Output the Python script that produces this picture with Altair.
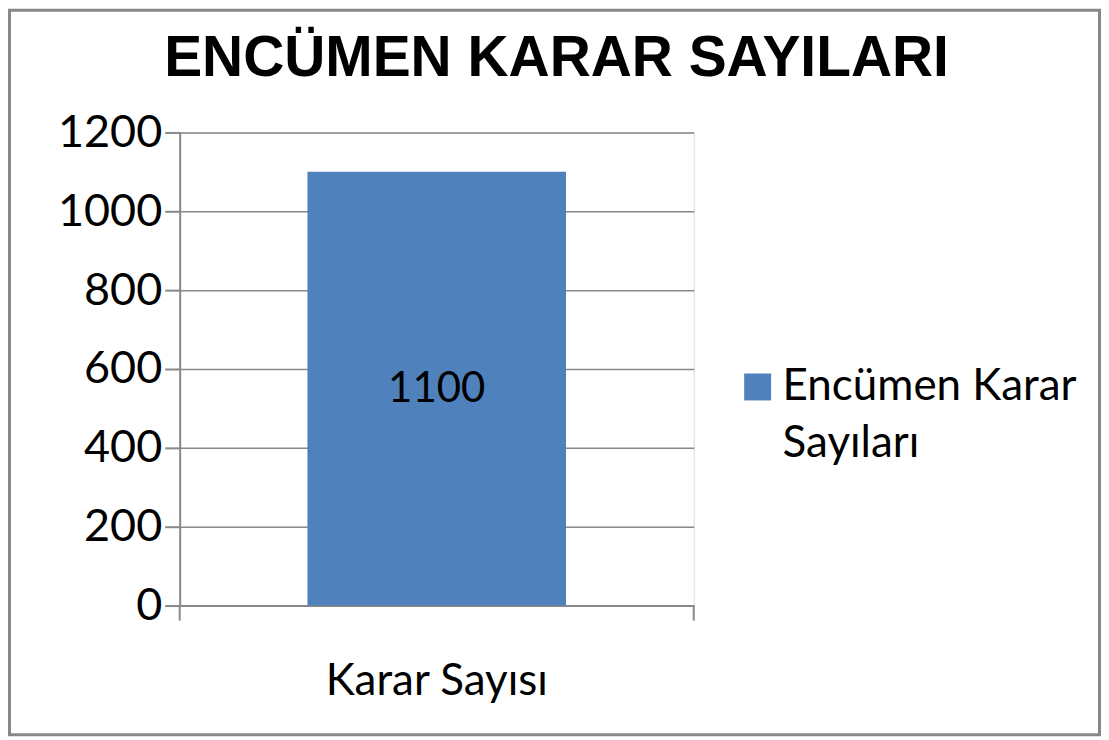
import altair as alt
import pandas as pd

categories = ["Karar Sayısı"]
values = [1100]
series = ["Encümen Karar Sayıları"]
y_ticks = [0, 200, 400, 600, 800, 1000, 1200]
title_text = "ENCÜMEN KARAR SAYILARI"

df = pd.DataFrame({"cat": categories, "value": values, "series": series})

W, H = 515, 474
PL, PT, PR, PB = 172, 124, 408, 131
FONT = "Lato"
GREY = "#888888"

base = alt.Chart(df)

bars = base.mark_bar(color="#4F81BD", width=alt.RelativeBandSize(0.503)).encode(
    x=alt.X("cat:N", title=None, sort=categories,
            scale=alt.Scale(paddingInner=0, paddingOuter=0),
            axis=alt.Axis(labelFont=FONT, labelFontSize=44, labelColor="black",
                          labelAngle=0, labelPadding=54, ticks=False,
                          labelLimit=500,
                          domainColor=GREY, domainWidth=2, grid=False)),
    y=alt.Y("value:Q", title=None,
            scale=alt.Scale(domain=[0, 1200], nice=False),
            axis=alt.Axis(values=y_ticks, labelFont=FONT, labelFontSize=45,
                          labelColor="black", labelPadding=3, tickSize=15,
                          tickColor=GREY, tickWidth=2, domainColor=GREY,
                          domainWidth=2, gridColor=GREY, gridWidth=1.5,
                          format="d")),
    color=alt.Color("series:N", scale=alt.Scale(range=["#4F81BD"]),
                    legend=alt.Legend(title=None, orient="none",
                                      legendX=557, legendY=233,
                                      symbolType="square", symbolSize=729,
                                      symbolStrokeWidth=0,
                                      labelFont=FONT, labelFontSize=44,
                                      labelColor="black", labelLimit=500,
                                      labelOffset=3,
                                      labelExpr="['Encümen Karar', 'Sayıları']")),
)

labels = base.transform_calculate(mid="datum.value / 2").mark_text(
    font=FONT, fontSize=42, color="black", baseline="middle"
).encode(
    x=alt.X("cat:N", sort=categories),
    y=alt.Y("mid:Q"),
    text=alt.Text("value:Q", format="d"),
)

edge_ticks = alt.Chart(pd.DataFrame({"t": [0, W]})).mark_rule(
    color=GREY, strokeWidth=2
).encode(x=alt.X("t:Q", scale=None), y=alt.value(H), y2=alt.value(H + 15))

border = alt.Chart(pd.DataFrame({"b": [0]})).mark_rect(
    fill=None, stroke=GREY, strokeWidth=3
).encode(
    x=alt.value(-PL + 1.5), x2=alt.value(W + PR - 1.5),
    y=alt.value(-PT + 1.5), y2=alt.value(H + PB - 1.5),
)

title = alt.Chart(pd.DataFrame({"t": [title_text]})).mark_text(
    font="Liberation Sans", fontSize=57, fontWeight="bold", color="black",
    align="center", baseline="alphabetic"
).encode(text="t:N", x=alt.value(W / 2 + 120), y=alt.value(-57))

chart = alt.layer(border, bars, labels, edge_ticks, title).properties(
    width=W, height=H,
    padding={"left": PL, "top": PT, "right": PR, "bottom": PB},
    autosize=alt.AutoSizeParams(type="none"),
).configure_view(stroke=None).configure(
    background="white",
    style={"guide-label": {"lineHeight": 57}},
)

chart.save("out.html", embed_options={"renderer": "svg", "actions": False})
